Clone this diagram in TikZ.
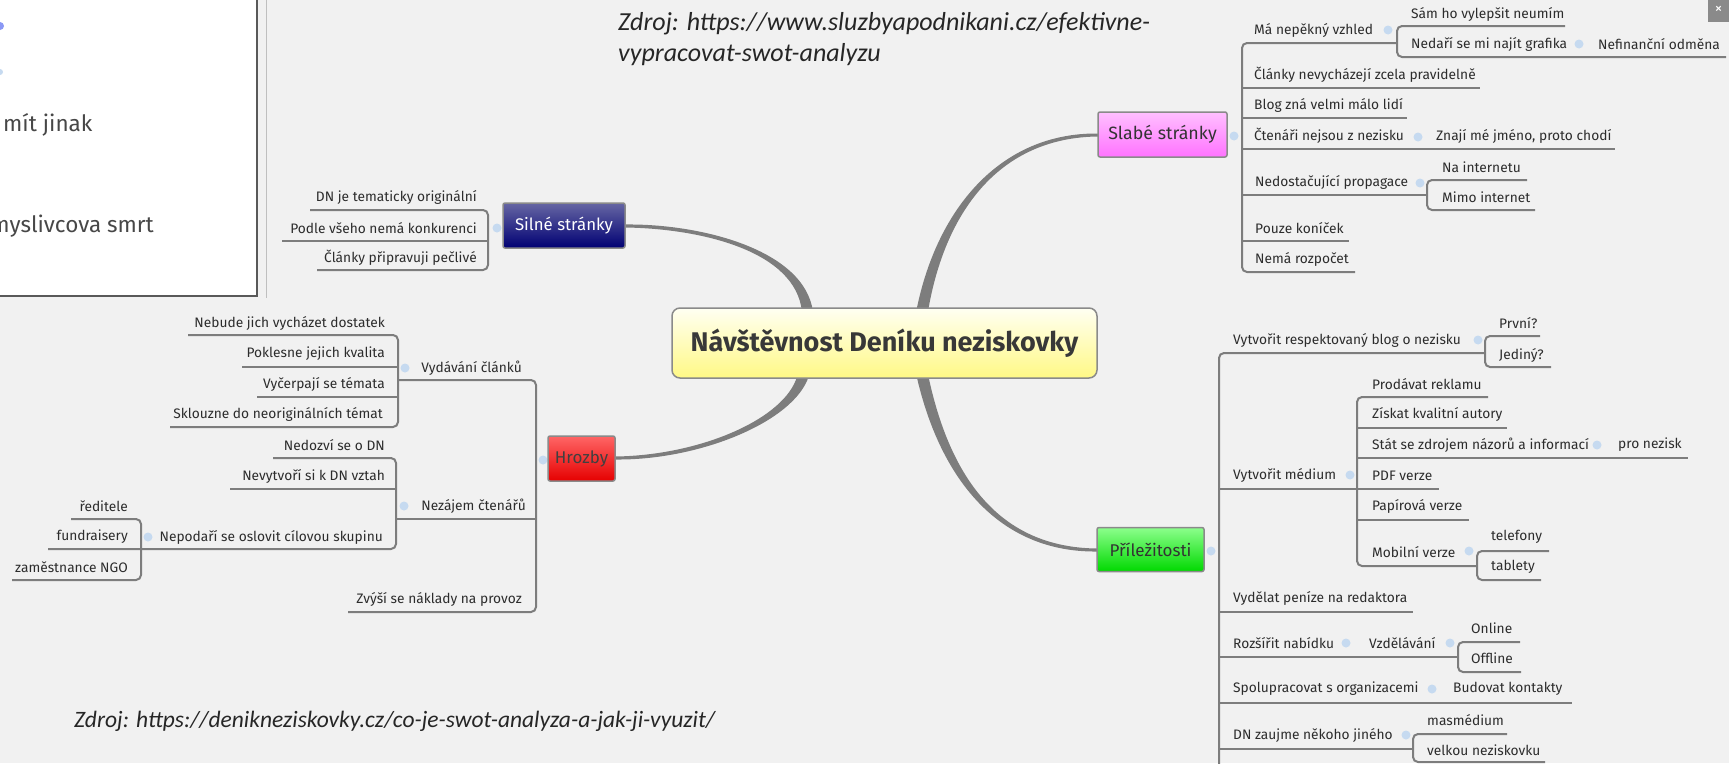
\documentclass[tikz,border=0pt]{standalone}
\usepackage{fontspec}
\setmainfont{Fira Sans}
\newfontfamily\cali{Carlito}
\definecolor{bg}{HTML}{F1F1F1}
\definecolor{linec}{HTML}{7D7D7D}
\definecolor{txt}{HTML}{2C2C2C}
\definecolor{dotc}{HTML}{C6DAF0}
\definecolor{bord}{HTML}{8A8A8A}
\tikzset{
  ln/.style={draw=linec, line width=2pt, rounded corners=5pt},
  lt/.style={anchor=west, inner sep=0pt, text=txt, font=\fontsize{13.75}{15}\selectfont},
  rt/.style={anchor=east, inner sep=0pt, text=txt, font=\fontsize{13.75}{15}\selectfont},
  bdot/.style={circle, fill=dotc, minimum size=9pt, inner sep=0pt},
  mainbox/.style={draw=bord, line width=1.5pt, rounded corners=2pt, inner sep=0pt, font=\fontsize{17}{19}\selectfont},
  src/.style={anchor=west, inner sep=0pt, text=black!85, font=\cali\itshape\fontsize{26}{30}\selectfont},
  crv/.style={fill=linec, draw=none}
}
\begin{document}
\begin{tikzpicture}[x=1pt,y=-1pt]
\useasboundingbox (0,0) rectangle (1729,763);
\fill[bg] (0,0) rectangle (1729,763);

% ---------- main curves (tapered) ----------
\fill[crv] (625,227.5) .. controls (700,228.5) and (796,250.5) .. (802,312)
  -- (813,312) .. controls (805,249.5) and (700,223.5) .. (625,224.5) -- cycle;
\fill[crv] (615,459.5) .. controls (700,460.5) and (794.8,421.2) .. (808.8,376)
  -- (797.2,376) .. controls (785.2,418.8) and (700,455.5) .. (615,456.5) -- cycle;
\fill[crv] (1098,133.5) .. controls (1000,132.5) and (936.1,209.3) .. (916.1,312)
  -- (927.9,312) .. controls (944.9,210.7) and (1000,137.5) .. (1098,136.5) -- cycle;
\fill[crv] (1097,548.5) .. controls (1000,547.5) and (949.9,479.1) .. (927.9,374)
  -- (916.1,374) .. controls (940.1,480.9) and (1000,552.5) .. (1097,551.5) -- cycle;

% ---------- brackets and underlines ----------
% Silne
\draw[ln] (310,210) -- (488,210) -- (488,270) -- (317,270);
\draw[ln] (282,241) -- (488,241);
% Hrozby
\draw[ln] (188,335) -- (398,335) -- (398,427) -- (170,427);
\draw[ln] (242,367) -- (398,367);
\draw[ln] (257,397) -- (398,397);
\draw[ln] (398,380) -- (536,380) -- (536,612) -- (348,612);
\draw[ln] (396,519) -- (536,519);
\draw[ln] (273,458) -- (396,458) -- (396,549) -- (48,549);
\draw[ln] (230,489) -- (396,489);
\draw[ln] (71,519) -- (141,519) -- (141,580) -- (12,580);
% Slabe
\draw[ln] (1397,43) -- (1242,43) -- (1242,272) -- (1355,272);
\draw[ln] (1242,88) -- (1480,88);
\draw[ln] (1242,118) -- (1407,118);
\draw[ln] (1242,149) -- (1615,149);
\draw[ln] (1242,195) -- (1427,195);
\draw[ln] (1242,241) -- (1349,241);
\draw[ln] (1565,26) -- (1397,26) -- (1397,57) -- (1726,57);
\draw[ln] (1527,180) -- (1427,180) -- (1427,210) -- (1535,210);
% Prilezitosti
\draw[ln] (1485,353) -- (1219,353) -- (1219,775);
\draw[ln] (1219,489) -- (1439,489);
\draw[ln] (1219,612) -- (1413,612);
\draw[ln] (1219,657) -- (1458,657);
\draw[ln] (1219,703) -- (1572,703);
\draw[ln] (1219,749) -- (1413,749);
\draw[ln] (1540,336) -- (1485,336) -- (1485,367) -- (1551,367);
\draw[ln] (1488,397) -- (1357,397) -- (1357,566) -- (1477,566);
\draw[ln] (1357,428) -- (1507,428);
\draw[ln] (1357,458) -- (1688,458);
\draw[ln] (1357,520) -- (1469,520);
\draw[ln] (1549,551) -- (1477,551) -- (1477,580) -- (1541,580);
\draw[ln] (1520,642) -- (1458,642) -- (1458,672) -- (1521,672);
\draw[ln] (1507,734) -- (1413,734) -- (1413,762) -- (1545,762);

% ---------- dots ----------
\foreach \p [count=\i] in {(497,228),(405,368),(543,460),(404,506),(148,537),
  (1234,136),(1388,30),(1579,44),(1418,137),(1420,183),
  (1211,551),(1478,340),(1350,475),(1597,445),(1469,551),(1346,643),(1450,643),(1432,689),(1406,735)}
  \node[bdot] (d\i) at \p {};

% ---------- main nodes ----------
\node[draw=bord, line width=1.5pt, rounded corners=8pt, top color=yellow!5, bottom color=yellow!45!white!95!orange,
  minimum width=425pt, minimum height=70pt, inner sep=0pt, text=black!78,
  font=\bfseries\fontsize{27}{30}\selectfont] (cn) at (884.5,343) {Návštěvnost Deníku neziskovky};
\node[mainbox, top color=blue!40!black!60!white, bottom color=blue!45!black, text=white,
  minimum width=122pt, minimum height=45pt, font=\fontsize{16.8}{19}\selectfont] (sil) at (564,225.5) {Silné stránky};
\node[mainbox, top color=red!60!white, bottom color=red!90!black!100, text=black!75,
  minimum width=67pt, minimum height=45pt] (hro) at (581.5,458.5) {Hrozby};
\node[mainbox, top color=magenta!25!white, bottom color=magenta!55!white, text=black!80,
  minimum width=129pt, minimum height=45pt, font=\fontsize{17.8}{20}\selectfont] (sla) at (1162.5,134.5) {Slabé stránky};
\node[mainbox, top color=green!45!white, bottom color=green!85!black!100, text=black!80,
  minimum width=107pt, minimum height=44pt] (pri) at (1150.5,549.5) {Příležitosti};

% ---------- Silne items ----------
\node[rt] (s1) at (477,197) {DN je tematicky originální};
\node[rt] (s2) at (477,228) {Podle všeho nemá konkurenci};
\node[rt] (s3) at (477,258) {Články připravuji pečlivé};

% ---------- Hrozby items ----------
\node[rt] (h1) at (385,323) {Nebude jich vycházet dostatek};
\node[rt] (h2) at (385,354) {Poklesne jejich kvalita};
\node[rt] (h3) at (385,384) {Vyčerpají se témata};
\node[rt] (h4) at (383,414) {Sklouzne do neoriginálních témat};
\node[rt] (hv) at (522,368) {Vydávání článků};
\node[rt] (n1) at (385,445) {Nedozví se o DN};
\node[rt] (n2) at (385,476) {Nevytvoří si k DN vztah};
\node[rt] (hn) at (526,506) {Nezájem čtenářů};
\node[rt] (n3) at (383,537) {Nepodaří se oslovit cílovou skupinu};
\node[rt] (c1) at (128,506) {ředitele};
\node[rt] (c2) at (128,537) {fundraisery};
\node[rt] (c3) at (128,567) {zaměstnance NGO};
\node[rt] (hz) at (522,599) {Zvýší se náklady na provoz};

% ---------- Slabe items ----------
\node[lt] (r1) at (1254,30) {Má nepěkný vzhled};
\node[lt] (r1a) at (1411,14) {Sám ho vylepšit neumím};
\node[lt] (r1b) at (1411,44) {Nedaří se mi najít grafika};
\node[lt] (r1c) at (1598,44) {Nefinanční odměna};
\node[lt] (r2) at (1254,75) {Články nevycházejí zcela pravidelně};
\node[lt] (r3) at (1254,105) {Blog zná velmi málo lidí};
\node[lt] (r4) at (1254,136) {Čtenáři nejsou z nezisku};
\node[lt] (r4a) at (1436,136) {Znají mé jméno, proto chodí};
\node[lt] (r5) at (1255,182) {Nedostačující propagace};
\node[lt] (r5a) at (1442,167) {Na internetu};
\node[lt] (r5b) at (1442,197) {Mimo internet};
\node[lt] (r6) at (1255,228) {Pouze koníček};
\node[lt] (r7) at (1255,259) {Nemá rozpočet};

% ---------- Prilezitosti items ----------
\node[lt] (p1) at (1233,340) {Vytvořit respektovaný blog o nezisku};
\node[lt] (p1a) at (1499,323) {První?};
\node[lt] (p1b) at (1499,355) {Jediný?};
\node[lt] (p2) at (1233,475) {Vytvořit médium};
\node[lt] (p2a) at (1372,384) {Prodávat reklamu};
\node[lt] (p2b) at (1372,414) {Získat kvalitní autory};
\node[lt] (p2c) at (1372,445) {Stát se zdrojem názorů a informací};
\node[lt] (p2d) at (1618,445) {pro nezisk};
\node[lt] (p2e) at (1372,476) {PDF verze};
\node[lt] (p2f) at (1372,506) {Papírová verze};
\node[lt] (p2g) at (1372,552) {Mobilní verze};
\node[lt] (p2h) at (1491,537) {telefony};
\node[lt] (p2i) at (1491,567) {tablety};
\node[lt] (p3) at (1233,598) {Vydělat peníze na redaktora};
\node[lt] (p4) at (1233,643) {Rozšířit nabídku};
\node[lt] (p4a) at (1369,643) {Vzdělávání};
\node[lt] (p4b) at (1471,628) {Online};
\node[lt] (p4c) at (1471,658) {Offline};
\node[lt] (p5) at (1233,689) {Spolupracovat s organizacemi};
\node[lt] (p5a) at (1453,689) {Budovat kontakty};
\node[lt] (p6) at (1233,735) {DN zaujme někoho jiného};
\node[lt] (p6a) at (1427,720) {masmédium};
\node[lt] (p6b) at (1427,750) {velkou neziskovku};

% ---------- close button ----------
\fill[bord] (1708,0) rectangle (1729,22);
\node[text=white, inner sep=0pt, font=\fontsize{15}{15}\selectfont] (xb) at (1718.5,10) {×};

% ---------- white box top left ----------
\fill[white] (0,0) rectangle (257,296);
\draw[black!65, line width=1.3pt] (257,0) -- (257,296) -- (0,296);
\draw[black!25, line width=1pt] (266,0) -- (266,298);
\begin{scope}
\clip (0,0) rectangle (256,295);
\fill[dotc!70!blue] (0,26) circle (4);
\fill[dotc] (0,72) circle (3);
\node[anchor=west, inner sep=0pt, text=black!72, font=\fontsize{22.5}{25}\selectfont] (w1) at (3,125) {mít jinak};
\node[anchor=east, inner sep=0pt, text=black!72, font=\fontsize{22.5}{25}\selectfont] (w2) at (154,226) {myslivcova smrt};
\end{scope}

% ---------- sources ----------
\node[src] (z1) at (618,24) {Zdroj: https://www.sluzbyapodnikani.cz/efektivne-};
\node[src] (z2) at (618,55) {vypracovat-swot-analyzu};
\node[src, font=\cali\itshape\fontsize{23.5}{28}\selectfont] (z3) at (74,721) {Zdroj: https://denikneziskovky.cz/co-je-swot-analyza-a-jak-ji-vyuzit/};
\end{tikzpicture}
\end{document}
